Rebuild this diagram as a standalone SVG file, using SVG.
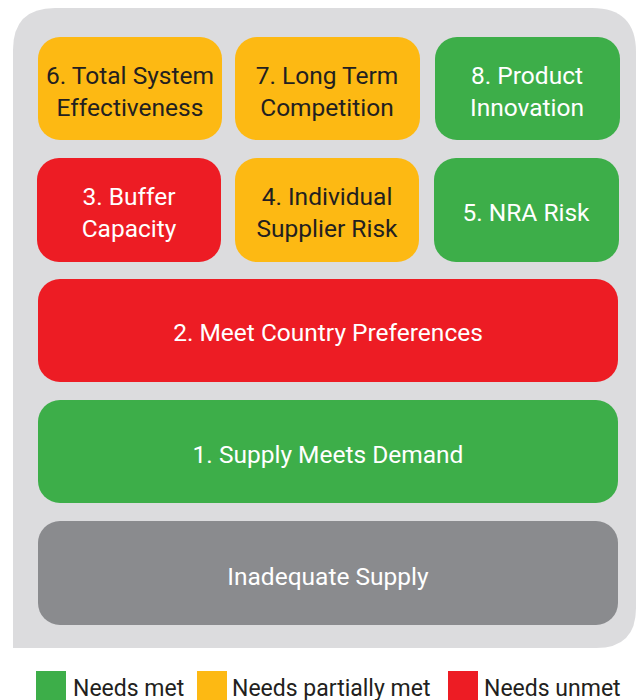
<svg xmlns="http://www.w3.org/2000/svg" width="638" height="700" viewBox="0 0 638 700">
<style>
text{font-family:Roboto,"Liberation Sans",sans-serif;font-size:24.5px;text-anchor:middle}
.o{fill:#FDB913}.r{fill:#ED1C24}.g{fill:#3DAE49}.k{fill:#8A8B8E}
.dk{fill:#231F20}.wt{fill:#FFFFFF}
.lg{text-anchor:start;font-size:23px;fill:#231F20}
</style>
<rect width="638" height="700" fill="#FFFFFF"/>
<path id="panel" d="M13,648 L13,50 Q13,8 55,8 L592,8 Q636,8 636,52 L636,608 Q636,648 596,648 Z" fill="#DCDCDE"/>
<g id="n6"><rect class="o" x="38" y="37" width="184" height="103" rx="22"/><text class="dk" x="130" y="84">6. Total System</text><text class="dk" x="130" y="116">Effectiveness</text></g>
<g id="n7"><rect class="o" x="235" y="37" width="185" height="103" rx="22"/><text class="dk" x="327" y="84">7. Long Term</text><text class="dk" x="327" y="116">Competition</text></g>
<g id="n8"><rect class="g" x="435" y="37" width="185" height="103" rx="22"/><text class="wt" x="527" y="84">8. Product</text><text class="wt" x="527" y="116">Innovation</text></g>
<g id="n3"><rect class="r" x="37" y="158" width="184" height="104" rx="22"/><text class="wt" x="129" y="205">3. Buffer</text><text class="wt" x="129" y="237">Capacity</text></g>
<g id="n4"><rect class="o" x="235" y="158" width="184" height="104" rx="22"/><text class="dk" x="327" y="205">4. Individual</text><text class="dk" x="327" y="237">Supplier Risk</text></g>
<g id="n5"><rect class="g" x="434" y="158" width="185" height="104" rx="22"/><text class="wt" x="526" y="221">5. NRA Risk</text></g>
<g id="n2"><rect class="r" x="38" y="279" width="580" height="103" rx="22"/><text class="wt" x="328" y="341">2. Meet Country Preferences</text></g>
<g id="n1"><rect class="g" x="38" y="400" width="580" height="103" rx="22"/><text class="wt" x="328" y="463">1. Supply Meets Demand</text></g>
<g id="n0"><rect class="k" x="38" y="521" width="580" height="104" rx="22"/><text class="wt" x="328" y="585">Inadequate Supply</text></g>
<g id="connectors"></g>
<g id="legend">
<rect class="g" x="36" y="671" width="30" height="29"/><text class="lg" x="73" y="696">Needs met</text>
<rect class="o" x="197" y="671" width="30" height="29"/><text class="lg" x="232" y="696">Needs partially met</text>
<rect class="r" x="448" y="671" width="30" height="29"/><text class="lg" x="484" y="696">Needs unmet</text>
</g>
</svg>
